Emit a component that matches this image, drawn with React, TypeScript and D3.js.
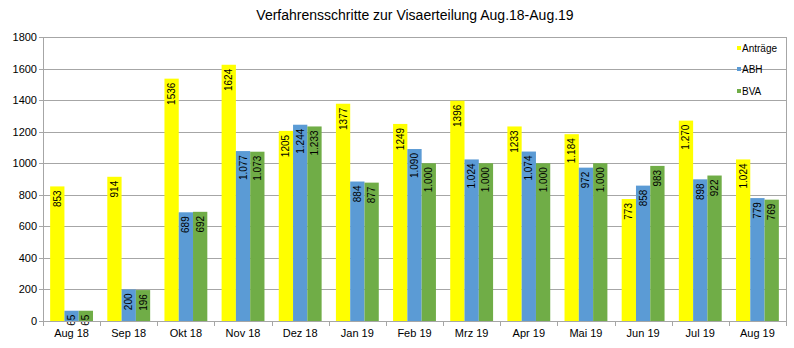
import React from "react";
import * as d3 from "d3";

const categories = ["Aug 18", "Sep 18", "Okt 18", "Nov 18", "Dez 18", "Jan 19", "Feb 19", "Mrz 19", "Apr 19", "Mai 19", "Jun 19", "Jul 19", "Aug 19"];
const antraege = [853, 914, 1536, 1624, 1205, 1377, 1249, 1396, 1233, 1184, 773, 1270, 1024];
const abh = [65, 200, 689, 1077, 1244, 884, 1090, 1024, 1074, 972, 858, 898, 779];
const bva = [65, 196, 692, 1073, 1233, 877, 1000, 1000, 1000, 1000, 983, 922, 769];
const antraegeLabels = ["853", "914", "1536", "1624", "1205", "1377", "1249", "1396", "1233", "1.184", "773", "1.270", "1.024"];
const abhLabels = ["65", "200", "689", "1.077", "1.244", "884", "1.090", "1.024", "1.074", "972", "858", "898", "779"];
const bvaLabels = ["65", "196", "692", "1.073", "1.233", "877", "1.000", "1.000", "1.000", "1.000", "983", "922", "769"];
const yTicks = [0, 200, 400, 600, 800, 1000, 1200, 1400, 1600, 1800];
const seriesNames = ["Anträge", "ABH", "BVA"];
const seriesColors = ["#FFFF00", "#5B9BD5", "#70AD47"];

export default function App() {
  const W = 794, H = 348;
  const left = 43, right = 786, top = 37, bottom = 321;
  const y = d3.scaleLinear().domain([0, 1800]).range([bottom, top]);
  const x0 = d3.scaleBand<string>().domain(categories).range([left, right]).paddingInner(0).paddingOuter(0);
  const bw = x0.bandwidth();
  const barW = bw / 4;
  const series = [
    { vals: antraege, labels: antraegeLabels },
    { vals: abh, labels: abhLabels },
    { vals: bva, labels: bvaLabels },
  ];
  const font = "'Liberation Sans', Arial, sans-serif";
  return (
    <svg width={W} height={H} style={{ position: "absolute", left: 0, top: 0, background: "#fff" }} fontFamily={font}>
      <rect x={0} y={0} width={W} height={H} fill="#fff" />
      <text x={415} y={20} textAnchor="middle" fontSize={14} fill="#000">Verfahrensschritte zur Visaerteilung Aug.18-Aug.19</text>
      {yTicks.map((t) => (
        <g key={t}>
          <line x1={left - 4} x2={t === 0 ? left : right} y1={Math.round(y(t)) + 0.5} y2={Math.round(y(t)) + 0.5} stroke="#A6A6A6" strokeWidth={1} />
          <text x={37} y={y(t) + 4} textAnchor="end" fontSize={11} fill="#000">{t}</text>
        </g>
      ))}
      <line x1={right + 0.5} x2={right + 0.5} y1={top} y2={bottom} stroke="#A6A6A6" />
      {categories.map((c, i) => (
        <g key={c}>
          {series.map((s, j) => {
            const bx = (x0(c) as number) + barW / 2 + j * barW;
            const by = y(s.vals[i]);
            const cx = bx + barW / 2;
            const ly = by + 4;
            return (
              <g key={j}>
                <rect x={bx} y={by} width={barW} height={bottom - by} fill={seriesColors[j]} />
                <text transform={`translate(${cx + 3.5},${ly}) rotate(-90)`} textAnchor="end" fontSize={10} fill="#000">{s.labels[i]}</text>
              </g>
            );
          })}
          <text x={(x0(c) as number) + bw / 2} y={337} textAnchor="middle" fontSize={11} fill="#000">{c}</text>
        </g>
      ))}
      <line x1={left} x2={right} y1={bottom + 0.5} y2={bottom + 0.5} stroke="#A6A6A6" />
      {d3.range(categories.length + 1).map((k) => {
        const xx = Math.round(left + k * bw) + 0.5;
        return <line key={k} x1={xx} x2={xx} y1={bottom} y2={bottom + 5} stroke="#A6A6A6" />;
      })}
      <line x1={left + 0.5} x2={left + 0.5} y1={top} y2={bottom} stroke="#A6A6A6" />
      {seriesNames.map((n, j) => {
        const ly = [48, 69, 91][j];
        return (
          <g key={n}>
            <rect x={737} y={ly - 2} width={4} height={4} fill={seriesColors[j]} />
            <text x={742} y={ly + 3.5} fontSize={10} fill="#000">{n}</text>
          </g>
        );
      })}
    </svg>
  );
}
